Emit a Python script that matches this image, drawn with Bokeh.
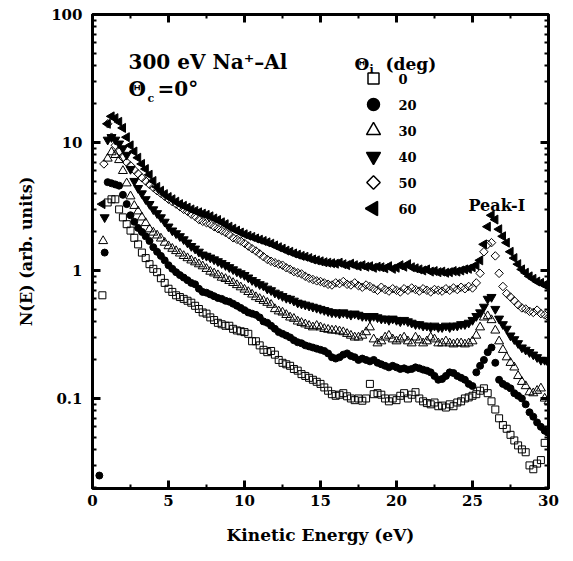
import math
from bokeh.plotting import figure
from bokeh.models import (FixedTicker, SingleIntervalTicker, LinearAxis, LogAxis,
                          Label, CustomJSTickFormatter, Range1d, LinearScale)
from bokeh.embed import file_html
from bokeh.resources import INLINE

FONT = "DejaVu Serif"

# measurement energy grid (eV): 1.0 ... 30.0, channel step 0.25 eV
energy = [1.0 + 0.25 * i for i in range(117)]

theta_labels = ["0", "20", "30", "40", "50", "60"]

# onset points (rising edge, below 1 eV)
onset_e_0 = [0.65]
onset_n_0 = [0.64]
onset_e_20 = [0.45, 0.8]
onset_n_20 = [0.025, 1.38]
onset_e_30 = [0.7]
onset_n_30 = [1.7]
onset_e_40 = [0.8]
onset_n_40 = [2.6]
onset_e_50 = [0.75]
onset_n_50 = [6.8]
onset_e_60 = [0.65]
onset_n_60 = [3.3]

n_0 = [
    3.4, 3.6, 3.6, 3.0, 2.6, 2.3, 2.05, 1.8, 1.6, 1.38, 1.25, 1.12, 1.03, 0.97, 0.87, 0.8, 0.72, 0.68, 0.64, 0.62,
    0.6, 0.58, 0.56, 0.53, 0.5, 0.47, 0.46, 0.43, 0.41, 0.39, 0.38, 0.37, 0.37, 0.35, 0.34, 0.335, 0.33, 0.32, 0.28, 0.28,
    0.26, 0.24, 0.23, 0.235, 0.22, 0.2, 0.19, 0.185, 0.18, 0.17, 0.165, 0.155, 0.15, 0.145, 0.14, 0.135, 0.13, 0.122, 0.115, 0.108,
    0.105, 0.107, 0.11, 0.104, 0.1, 0.097, 0.1, 0.096, 0.1, 0.13, 0.108, 0.11, 0.107, 0.1, 0.095, 0.1, 0.097, 0.105, 0.11, 0.1,
    0.107, 0.112, 0.1, 0.095, 0.092, 0.09, 0.093, 0.087, 0.088, 0.085, 0.09, 0.087, 0.093, 0.095, 0.1, 0.102, 0.105, 0.108, 0.115, 0.12,
    0.11, 0.095, 0.082, 0.07, 0.062, 0.058, 0.052, 0.047, 0.043, 0.04, 0.038, 0.03, 0.028, 0.031, 0.033, 0.045, 0.055,
]

n_20 = [
    4.9, 4.8, 4.7, 4.6, 3.9, 3.3, 2.7, 2.4, 2.15, 2.0, 1.85, 1.7, 1.52, 1.4, 1.3, 1.2, 1.1, 1.03, 0.97, 0.92,
    0.88, 0.84, 0.8, 0.78, 0.72, 0.68, 0.67, 0.65, 0.63, 0.61, 0.6, 0.58, 0.57, 0.55, 0.53, 0.51, 0.49, 0.47, 0.46, 0.45,
    0.43, 0.4, 0.39, 0.37, 0.35, 0.33, 0.32, 0.31, 0.3, 0.285, 0.275, 0.27, 0.26, 0.255, 0.25, 0.245, 0.24, 0.235, 0.225, 0.21,
    0.205, 0.21, 0.22, 0.225, 0.215, 0.21, 0.2, 0.205, 0.2, 0.195, 0.2, 0.19, 0.185, 0.18, 0.175, 0.18, 0.175, 0.17, 0.172, 0.168,
    0.17, 0.175, 0.172, 0.168, 0.165, 0.16, 0.15, 0.14, 0.142, 0.15, 0.16, 0.158, 0.15, 0.145, 0.14, 0.13, 0.125, 0.16, 0.18, 0.2,
    0.23, 0.25, 0.19, 0.14, 0.13, 0.125, 0.12, 0.11, 0.105, 0.1, 0.09, 0.078, 0.072, 0.065, 0.06, 0.056, 0.054,
]

n_30 = [
    7.5, 8.4, 8.0, 7.3, 6.0, 4.8, 3.8, 3.2, 2.9, 2.6, 2.35, 2.1, 1.98, 1.88, 1.78, 1.65, 1.55, 1.48, 1.42, 1.36,
    1.3, 1.25, 1.2, 1.16, 1.12, 1.08, 1.03, 0.98, 0.95, 0.92, 0.88, 0.86, 0.83, 0.8, 0.77, 0.74, 0.71, 0.68, 0.65, 0.62,
    0.6, 0.58, 0.56, 0.54, 0.5, 0.48, 0.47, 0.45, 0.43, 0.42, 0.4, 0.39, 0.38, 0.37, 0.36, 0.37, 0.36, 0.35, 0.345, 0.34,
    0.34, 0.335, 0.33, 0.32, 0.31, 0.3, 0.3, 0.31, 0.33, 0.36, 0.29, 0.27, 0.28, 0.3, 0.31, 0.29, 0.28, 0.29, 0.3, 0.28,
    0.27, 0.3, 0.285, 0.27, 0.28, 0.3, 0.29, 0.27, 0.27, 0.28, 0.27, 0.265, 0.27, 0.27, 0.265, 0.27, 0.28, 0.31, 0.36, 0.43,
    0.44, 0.41, 0.34, 0.28, 0.24, 0.21, 0.19, 0.175, 0.15, 0.135, 0.125, 0.112, 0.11, 0.115, 0.12, 0.1, 0.095,
]

n_40 = [
    10.5, 11.0, 10.5, 9.8, 9.0, 8.0, 6.2, 5.0, 4.4, 4.0, 3.6, 3.3, 3.0, 2.8, 2.6, 2.4, 2.2, 2.05, 1.95, 1.85,
    1.75, 1.65, 1.55, 1.48, 1.4, 1.33, 1.3, 1.26, 1.22, 1.18, 1.14, 1.1, 1.06, 1.02, 0.98, 0.95, 0.92, 0.88, 0.84, 0.81,
    0.78, 0.76, 0.72, 0.7, 0.67, 0.65, 0.63, 0.61, 0.6, 0.58, 0.56, 0.55, 0.54, 0.53, 0.52, 0.51, 0.5, 0.49, 0.48, 0.47,
    0.47, 0.46, 0.47, 0.46, 0.45, 0.46, 0.45, 0.44, 0.44, 0.43, 0.44, 0.43, 0.42, 0.42, 0.41, 0.42, 0.41, 0.4, 0.41, 0.4,
    0.39, 0.38, 0.38, 0.37, 0.37, 0.36, 0.37, 0.36, 0.36, 0.37, 0.36, 0.37, 0.37, 0.38, 0.38, 0.39, 0.41, 0.44, 0.47, 0.52,
    0.6, 0.62, 0.5, 0.42, 0.38, 0.35, 0.31, 0.29, 0.27, 0.25, 0.24, 0.23, 0.22, 0.21, 0.2, 0.2, 0.19,
]

n_50 = [
    14.0, 11.0, 9.5, 8.5, 7.6, 7.0, 6.6, 6.1, 5.7, 5.3, 5.0, 4.7, 4.45, 4.2, 4.0, 3.8, 3.6, 3.45, 3.3, 3.15,
    3.0, 2.9, 2.75, 2.65, 2.5, 2.42, 2.36, 2.3, 2.2, 2.12, 2.05, 1.98, 1.9, 1.8, 1.75, 1.7, 1.63, 1.55, 1.48, 1.42,
    1.35, 1.28, 1.22, 1.18, 1.15, 1.12, 1.1, 1.05, 1.02, 0.98, 0.96, 0.94, 0.9, 0.87, 0.85, 0.83, 0.82, 0.8, 0.78, 0.77,
    0.8, 0.79, 0.82, 0.78, 0.77, 0.8, 0.76, 0.74, 0.77, 0.75, 0.72, 0.7, 0.74, 0.71, 0.69, 0.72, 0.7, 0.68, 0.72, 0.7,
    0.73, 0.71, 0.69, 0.72, 0.7, 0.68, 0.71, 0.7, 0.69, 0.72, 0.7, 0.73, 0.71, 0.74, 0.72, 0.75, 0.73, 0.8, 0.95, 1.4,
    1.6, 1.65, 1.3, 0.95, 0.75, 0.66, 0.62, 0.58, 0.54, 0.51, 0.5, 0.48, 0.47, 0.49, 0.46, 0.45, 0.43,
]

n_60 = [
    14.0, 16.0, 15.5, 14.5, 13.0, 11.0, 9.5, 8.5, 7.6, 6.8, 6.2, 5.6, 5.0, 4.5, 4.2, 3.95, 3.75, 3.6, 3.45, 3.3,
    3.2, 3.1, 3.0, 2.92, 2.85, 2.78, 2.72, 2.65, 2.55, 2.48, 2.38, 2.3, 2.2, 2.12, 2.05, 1.98, 1.92, 1.87, 1.83, 1.78,
    1.74, 1.7, 1.66, 1.62, 1.57, 1.52, 1.48, 1.43, 1.4, 1.36, 1.33, 1.3, 1.28, 1.25, 1.22, 1.2, 1.18, 1.16, 1.15, 1.14,
    1.13, 1.15, 1.12, 1.1, 1.13, 1.1, 1.08, 1.1, 1.07, 1.08, 1.05, 1.07, 1.06, 1.04, 1.08, 1.03, 1.05, 1.1, 1.07, 1.12,
    1.06, 1.04, 1.02, 1.0, 1.02, 0.98, 0.99, 0.97, 0.98, 0.96, 0.97, 0.99, 0.98, 1.0, 1.02, 1.03, 1.06, 1.1, 1.2, 1.6,
    2.2, 2.7, 2.5, 2.1, 1.85, 1.65, 1.4, 1.25, 1.12, 1.02, 0.96, 0.9, 0.86, 0.82, 0.8, 0.77, 0.75,
]

y_major = [0.1, 1, 10, 100]
y_minor = [m * 10.0 ** k for k in (-2, -1, 0, 1) for m in range(2, 10)]

FRAME_W, FRAME_H = 456, 474

p = figure(width=573, height=561, x_range=(0, 30), y_range=(0.0198, 100),
           y_axis_type="log", output_backend="svg", toolbar_location=None,
           min_border_left=92, min_border_right=25, min_border_top=14, min_border_bottom=73,
           background_fill_color="white", border_fill_color="white",
           outline_line_color="black", outline_line_width=3)
p.grid.visible = False

# pixel-like ranges used only for the hand-made legend keys
p.extra_x_ranges = {"key_x": Range1d(0, FRAME_W)}
p.extra_y_ranges = {"key_y": Range1d(FRAME_H, 0)}
p.extra_x_scales = {"key_x": LinearScale()}
p.extra_y_scales = {"key_y": LinearScale()}


def style_axis(ax, labels=True):
    ax.axis_line_color = None
    ax.major_tick_in = 8
    ax.major_tick_out = 0
    ax.minor_tick_in = 4
    ax.minor_tick_out = 0
    ax.major_tick_line_width = 3
    ax.minor_tick_line_width = 2
    ax.major_tick_line_color = "black"
    ax.minor_tick_line_color = "black"
    if labels:
        ax.major_label_text_font = FONT
        ax.major_label_text_font_style = "bold"
        ax.major_label_text_font_size = "15px"
        ax.major_label_text_color = "black"
        ax.axis_label_text_font = FONT
        ax.axis_label_text_font_style = "bold"
        ax.axis_label_text_color = "black"
    else:
        ax.major_label_text_font_size = "0px"
        ax.formatter = CustomJSTickFormatter(code="return '';")
        ax.major_label_standoff = 0


p.xaxis.ticker = SingleIntervalTicker(interval=5, num_minor_ticks=2)
style_axis(p.xaxis[0])
p.xaxis.axis_label = "Kinetic Energy (eV)"
p.xaxis.axis_label_text_font_size = "17px"
p.xaxis.major_label_standoff = 6
p.xaxis.axis_label_standoff = 16

p.yaxis.ticker = FixedTicker(ticks=y_major, minor_ticks=y_minor)
p.yaxis.formatter = CustomJSTickFormatter(code="return tick < 1 ? tick.toFixed(1) : tick.toFixed(0);")
style_axis(p.yaxis[0])
p.yaxis.axis_label = "N(E) (arb. units)"
p.yaxis.axis_label_text_font_size = "16px"
p.yaxis.major_label_standoff = 10
p.yaxis.axis_label_standoff = 12

top_ax = LinearAxis(ticker=SingleIntervalTicker(interval=5, num_minor_ticks=2))
style_axis(top_ax, labels=False)
p.add_layout(top_ax, "above")

right_ax = LogAxis(ticker=FixedTicker(ticks=y_major, minor_ticks=y_minor))
style_axis(right_ax, labels=False)
p.add_layout(right_ax, "right")

# label, onset E, onset N, values, marker, angle, filled, plot size, key size
series = [
    ("0", onset_e_0, onset_n_0, n_0, "square", 0.0, False, 7, 11),
    ("20", onset_e_20, onset_n_20, n_20, "circle", 0.0, True, 7, 12),
    ("30", onset_e_30, onset_n_30, n_30, "triangle", 0.0, False, 9, 14),
    ("40", onset_e_40, onset_n_40, n_40, "inverted_triangle", 0.0, True, 9, 14),
    ("50", onset_e_50, onset_n_50, n_50, "square", math.pi / 4, False, 6, 9.5),
    ("60", onset_e_60, onset_n_60, n_60, "triangle", math.pi / 2, True, 9, 14),
]

KEY_X = 281        # legend key column, px from frame left
LABEL_X = 306      # legend label column
ROW0, ROW_STEP = 64, 26   # legend row centres, px from frame top

for i, (lab, oe, on, vals, marker, ang, filled, size, ksize) in enumerate(series):
    fill = "black" if filled else None
    p.scatter(oe + energy, on + vals, marker=marker, size=size, angle=ang,
              fill_color=fill, line_color="black", line_width=1)
    row_y = ROW0 + ROW_STEP * i
    p.scatter([KEY_X], [row_y], x_range_name="key_x", y_range_name="key_y",
              marker=marker, size=ksize, angle=ang, fill_color=fill,
              line_color="black", line_width=1.5)
    p.add_layout(Label(x=LABEL_X, y=FRAME_H - row_y, x_units="screen", y_units="screen",
                       text=lab, text_font=FONT, text_font_style="bold", text_font_size="13px",
                       text_color="black", text_baseline="middle", text_align="left"))


def add_text(txt, x, y, size):
    p.add_layout(Label(x=x, y=y, x_units="screen", y_units="screen", text=txt,
                       text_font=FONT, text_font_style="bold", text_font_size=size,
                       text_color="black", text_baseline="alphabetic", text_align="left"))


add_text("300 eV Na\u207a\u2013Al", 36, 427, "20px")
add_text("\u0398", 36, 400, "20px")
add_text("c", 55, 390, "11px")
add_text("=0\u00b0", 65, 400, "20px")
add_text("\u0398", 262, 425, "17px")
add_text("i", 277, 419, "11px")
add_text("(deg)", 293, 425, "17px")
add_text("Peak-I", 376, 283, "16px")

open("out.html", "w").write(file_html(p, INLINE))
